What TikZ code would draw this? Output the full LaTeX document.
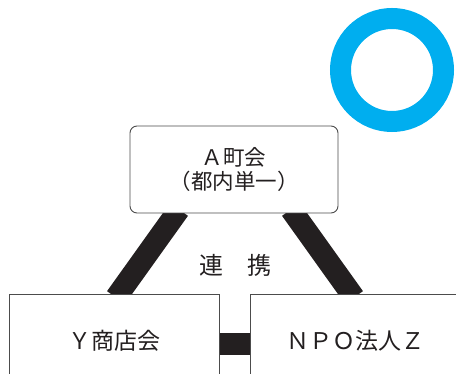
\documentclass[tikz,border=0pt]{standalone}
\usepackage{fontspec}
\setmainfont{Noto Sans CJK JP}
\usetikzlibrary{calc}
\definecolor{ringblue}{RGB}{0,174,239}
\definecolor{ink}{RGB}{35,31,32}
\pgfdeclarelayer{background}
\pgfsetlayers{background,main}
\tikzset{
  box/.style={draw=black!70, line width=0.9pt, fill=white, text=ink, align=center, inner sep=0pt},
  link/.style={draw=ink, line width=22pt},
}
\begin{document}
\begin{tikzpicture}[x=1pt,y=-1pt]
\useasboundingbox (0,0) rectangle (456,374);
\node[circle, draw=ringblue, line width=21pt, minimum size=103pt, inner sep=0pt] (ring) at (392,70) {};
\node[box, rounded corners=7pt, minimum width=208pt, minimum height=87pt,
      font=\fontsize{21.5}{24}\selectfont] (A) at (234,169.5) {Ａ町会\\（都内単一）};
\node[box, minimum width=210pt, minimum height=94pt, font=\fontsize{23}{26}\selectfont] (Y) at (114,341) {Ｙ商店会};
\node[box, minimum width=210pt, minimum height=94pt, font=\fontsize{23}{26}\selectfont] (N) at (355,341) {ＮＰＯ法人Ｚ};
\node[text=ink, font=\fontsize{24}{26}\selectfont, inner sep=0pt] (L) at (235,265) {連　携};
\begin{pgfonlayer}{background}
\draw[link] ($(A.south)+(-55,-4)$) -- ($(Y.north)+(2,4)$);
\draw[link] ($(A.south)+(57,-4)$) -- ($(N.north)+(-1,4)$);
\draw[link] ($(Y.east)+(-2,3)$) -- ($(N.west)+(2,3)$);
\end{pgfonlayer}
\end{tikzpicture}
\end{document}
